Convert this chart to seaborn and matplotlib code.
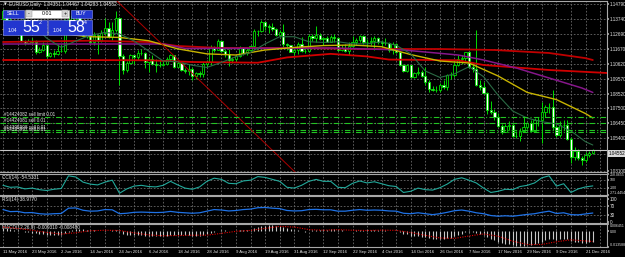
#!/usr/bin/env python
# EURUSD daily candles in MetaTrader style, with CCI, RSI and MACD sub-windows

import numpy as np
import seaborn as sns
from matplotlib import pyplot as plt
from matplotlib.patches import Rectangle

# ---------------------------------------------------------------- data
# daily OHLC, 11 May 2016 .. 23 Dec 2016 (one bar per weekday)
opens = [
    1.1377, 1.1428, 1.1370, 1.1310, 1.1315, 1.1317, 1.1220, 1.1203, 1.1222, 1.1215,
    1.1142, 1.1154, 1.1192, 1.1114, 1.1137, 1.1131, 1.1150, 1.1152, 1.1364, 1.1356,
    1.1392, 1.1394, 1.1314, 1.1252, 1.1289, 1.1212, 1.1259, 1.1222, 1.1276, 1.1311,
    1.1245, 1.1294, 1.1380, 1.1117, 1.1020, 1.1069, 1.1124, 1.1105, 1.1138, 1.1135,
    1.1075, 1.1095, 1.1060, 1.1052, 1.1052, 1.1060, 1.1091, 1.1120, 1.1040, 1.1066,
    1.1020, 1.1010, 1.1025, 1.0977, 1.0995, 1.0990, 1.1060, 1.1076, 1.1172, 1.1160,
    1.1222, 1.1150, 1.1129, 1.1086, 1.1094, 1.1115, 1.1172, 1.1137, 1.1160, 1.1182,
    1.1292, 1.1289, 1.1352, 1.1325, 1.1318, 1.1307, 1.1265, 1.1285, 1.1198, 1.1190,
    1.1146, 1.1158, 1.1197, 1.1153, 1.1152, 1.1255, 1.1240, 1.1262, 1.1232, 1.1240,
    1.1215, 1.1245, 1.1240, 1.1155, 1.1170, 1.1153, 1.1188, 1.1212, 1.1225, 1.1253,
    1.1210, 1.1215, 1.1220, 1.1240, 1.1210, 1.1205, 1.1205, 1.1155, 1.1200, 1.1145,
    1.1055, 1.1010, 1.1050, 1.0970, 1.0997, 1.1005, 1.0975, 1.0930, 1.0885, 1.0880,
    1.0875, 1.0915, 1.0895, 1.0985, 1.0980, 1.1055, 1.1095, 1.1100, 1.1140, 1.1040,
    1.1025, 1.0910, 1.0895, 1.0855, 1.0735, 1.0720, 1.0690, 1.0625, 1.0585, 1.0625,
    1.0630, 1.0555, 1.0555, 1.0590, 1.0615, 1.0645, 1.0590, 1.0665, 1.0665, 1.0720,
    1.0760, 1.0760, 1.0615, 1.0560, 1.0630, 1.0635, 1.0535, 1.0410, 1.0450, 1.0400,
    1.0385, 1.0425, 1.0435]
highs = [
    1.1446, 1.1440, 1.1385, 1.1335, 1.1350, 1.1335, 1.1225, 1.1235, 1.1240, 1.1230,
    1.1175, 1.1215, 1.1205, 1.1145, 1.1160, 1.1200, 1.1195, 1.1375, 1.1395, 1.1415,
    1.1415, 1.1400, 1.1330, 1.1300, 1.1300, 1.1285, 1.1260, 1.1295, 1.1380, 1.1350,
    1.1355, 1.1427, 1.1390, 1.1130, 1.1080, 1.1130, 1.1125, 1.1160, 1.1165, 1.1140,
    1.1105, 1.1120, 1.1095, 1.1085, 1.1090, 1.1110, 1.1130, 1.1125, 1.1080, 1.1070,
    1.1030, 1.1060, 1.1040, 1.1005, 1.1010, 1.1070, 1.1090, 1.1190, 1.1185, 1.1235,
    1.1230, 1.1165, 1.1165, 1.1105, 1.1125, 1.1185, 1.1180, 1.1175, 1.1190, 1.1305,
    1.1300, 1.1366, 1.1355, 1.1340, 1.1345, 1.1310, 1.1300, 1.1340, 1.1205, 1.1195,
    1.1165, 1.1210, 1.1245, 1.1170, 1.1270, 1.1270, 1.1325, 1.1275, 1.1250, 1.1255,
    1.1265, 1.1270, 1.1245, 1.1190, 1.1200, 1.1215, 1.1255, 1.1240, 1.1265, 1.1260,
    1.1235, 1.1245, 1.1255, 1.1250, 1.1230, 1.1240, 1.1215, 1.1215, 1.1205, 1.1150,
    1.1060, 1.1060, 1.1055, 1.1005, 1.1035, 1.1020, 1.1040, 1.0945, 1.0905, 1.0905,
    1.0925, 1.0945, 1.0990, 1.1000, 1.1070, 1.1125, 1.1125, 1.1145, 1.1145, 1.1070,
    1.1300, 1.0950, 1.0935, 1.0860, 1.0800, 1.0745, 1.0715, 1.0640, 1.0640, 1.0660,
    1.0640, 1.0590, 1.0610, 1.0685, 1.0650, 1.0665, 1.0680, 1.0690, 1.0795, 1.0775,
    1.0785, 1.0875, 1.0630, 1.0660, 1.0670, 1.0670, 1.0545, 1.0480, 1.0465, 1.0415,
    1.0445, 1.0450, 1.0467]
lows = [
    1.1370, 1.1365, 1.1305, 1.1290, 1.1300, 1.1215, 1.1195, 1.1200, 1.1200, 1.1130,
    1.1135, 1.1150, 1.1098, 1.1105, 1.1105, 1.1120, 1.1145, 1.1135, 1.1330, 1.1350,
    1.1360, 1.1300, 1.1245, 1.1240, 1.1200, 1.1195, 1.1130, 1.1210, 1.1270, 1.1240,
    1.1225, 1.1280, 1.0912, 1.0990, 1.1005, 1.1060, 1.1060, 1.1090, 1.1120, 1.1030,
    1.1000, 1.1055, 1.1000, 1.1035, 1.1045, 1.1050, 1.1080, 1.1030, 1.1035, 1.1010,
    1.0995, 1.0985, 1.0950, 1.0952, 1.0965, 1.0970, 1.1035, 1.1050, 1.1140, 1.1155,
    1.1140, 1.1110, 1.1045, 1.1065, 1.1070, 1.1105, 1.1125, 1.1120, 1.1145, 1.1175,
    1.1255, 1.1285, 1.1295, 1.1275, 1.1290, 1.1255, 1.1245, 1.1180, 1.1160, 1.1140,
    1.1120, 1.1130, 1.1140, 1.1135, 1.1140, 1.1220, 1.1215, 1.1225, 1.1195, 1.1210,
    1.1210, 1.1215, 1.1150, 1.1150, 1.1140, 1.1125, 1.1180, 1.1195, 1.1210, 1.1200,
    1.1180, 1.1195, 1.1160, 1.1200, 1.1175, 1.1190, 1.1140, 1.1130, 1.1135, 1.1045,
    1.1000, 1.1000, 1.0960, 1.0960, 1.0980, 1.0965, 1.0915, 1.0860, 1.0870, 1.0860,
    1.0865, 1.0885, 1.0875, 1.0955, 1.0970, 1.1045, 1.1060, 1.1075, 1.1030, 1.1005,
    1.0905, 1.0880, 1.0850, 1.0710, 1.0710, 1.0665, 1.0620, 1.0570, 1.0580, 1.0600,
    1.0545, 1.0540, 1.0520, 1.0585, 1.0605, 1.0580, 1.0585, 1.0625, 1.0505, 1.0690,
    1.0715, 1.0600, 1.0545, 1.0545, 1.0600, 1.0525, 1.0365, 1.0390, 1.0385, 1.0352,
    1.0370, 1.0410, 1.0428]
closes = [
    1.1428, 1.1370, 1.1310, 1.1315, 1.1317, 1.1220, 1.1203, 1.1222, 1.1215, 1.1142,
    1.1154, 1.1192, 1.1114, 1.1137, 1.1131, 1.1150, 1.1152, 1.1364, 1.1356, 1.1392,
    1.1394, 1.1314, 1.1252, 1.1289, 1.1212, 1.1259, 1.1222, 1.1276, 1.1311, 1.1245,
    1.1294, 1.1380, 1.1117, 1.1020, 1.1069, 1.1124, 1.1105, 1.1138, 1.1135, 1.1075,
    1.1095, 1.1060, 1.1052, 1.1052, 1.1060, 1.1091, 1.1120, 1.1040, 1.1066, 1.1020,
    1.1010, 1.1025, 1.0977, 1.0995, 1.0990, 1.1060, 1.1076, 1.1172, 1.1160, 1.1222,
    1.1150, 1.1129, 1.1086, 1.1094, 1.1115, 1.1172, 1.1137, 1.1160, 1.1182, 1.1292,
    1.1289, 1.1352, 1.1325, 1.1318, 1.1307, 1.1265, 1.1285, 1.1198, 1.1190, 1.1146,
    1.1158, 1.1197, 1.1153, 1.1152, 1.1255, 1.1240, 1.1262, 1.1232, 1.1240, 1.1215,
    1.1245, 1.1240, 1.1155, 1.1170, 1.1153, 1.1188, 1.1212, 1.1225, 1.1253, 1.1210,
    1.1215, 1.1220, 1.1240, 1.1210, 1.1205, 1.1205, 1.1155, 1.1200, 1.1145, 1.1055,
    1.1010, 1.1050, 1.0970, 1.0997, 1.1005, 1.0975, 1.0930, 1.0885, 1.0880, 1.0875,
    1.0915, 1.0895, 1.0985, 1.0980, 1.1055, 1.1095, 1.1100, 1.1140, 1.1040, 1.1025,
    1.0910, 1.0895, 1.0855, 1.0735, 1.0720, 1.0690, 1.0625, 1.0585, 1.0625, 1.0630,
    1.0555, 1.0555, 1.0590, 1.0615, 1.0645, 1.0590, 1.0665, 1.0665, 1.0720, 1.0760,
    1.0760, 1.0615, 1.0560, 1.0630, 1.0635, 1.0535, 1.0410, 1.0450, 1.0400, 1.0385,
    1.0425, 1.0435, 1.0455]

# one date label every 8 bars
date_labels = ["11 May 2016", "23 May 2016", "2 Jun 2016", "14 Jun 2016", "24 Jun 2016",
               "6 Jul 2016", "18 Jul 2016", "28 Jul 2016", "9 Aug 2016", "19 Aug 2016",
               "31 Aug 2016", "12 Sep 2016", "22 Sep 2016", "4 Oct 2016", "14 Oct 2016",
               "26 Oct 2016", "7 Nov 2016", "17 Nov 2016", "29 Nov 2016", "9 Dec 2016",
               "21 Dec 2016"]

price_ticks = [1.14790, 1.13740, 1.12690, 1.11670, 1.10620, 1.09570, 1.08520,
               1.07500, 1.06450, 1.05400, 1.04320, 1.03100]
price_tick_labels = ["1.14790", "1.13740", "1.12690", "1.11670", "1.10620", "1.09570",
                     "1.08520", "1.07500", "1.06450", "1.05400", "", "1.03100"]

# moving averages at a few bars
yellow_bars = [0, 8, 16, 24, 32, 40, 48, 56, 64, 72, 80, 88, 96, 104, 112, 120, 128,
               136, 144, 152, 160, 162]
yellow_ma = [1.1300, 1.1290, 1.1270, 1.1250, 1.1245, 1.1222, 1.1165, 1.1130, 1.1122,
             1.1157, 1.1175, 1.1188, 1.1192, 1.1180, 1.1125, 1.1080, 1.1066, 1.0975,
             1.0860, 1.0810, 1.0712, 1.0681]
purple_bars = [0, 44, 50, 90, 110, 125, 132, 141, 150, 159, 162]
purple_ma = [1.1199, 1.1199, 1.1168, 1.1171, 1.1157, 1.1122, 1.1087, 1.1031, 1.0961,
             1.0891, 1.0860]
red_up_bars = [0, 24, 40, 48, 60, 80, 100, 120, 135, 150, 160, 162]
red_up_ma = [1.1213, 1.1222, 1.1213, 1.1185, 1.1171, 1.1171, 1.1164, 1.1164, 1.1157,
             1.1136, 1.1100, 1.1087]
red_lo_bars = [0, 20, 40, 52, 70, 78, 90, 100, 106, 125, 132, 150, 166]
red_lo_ma = [1.1087, 1.1087, 1.1085, 1.1073, 1.1068, 1.1105, 1.1130, 1.1112, 1.1090,
             1.1085, 1.1052, 1.1017, 1.0996]
green_bars = list(range(0, 161, 4)) + [162]
green_ma = [1.1400, 1.1395, 1.1340, 1.1240, 1.1175, 1.1220, 1.1260, 1.1280, 1.1270,
            1.1220, 1.1150, 1.1080, 1.1075, 1.1050, 1.1035, 1.1070, 1.1110, 1.1140,
            1.1200, 1.1250, 1.1250, 1.1215, 1.1210, 1.1215, 1.1200, 1.1200, 1.1215,
            1.1190, 1.1130, 1.1010, 1.0965, 1.0990, 1.1040, 1.0970, 1.0840, 1.0730,
            1.0680, 1.0655, 1.0640, 1.0590, 1.0515, 1.0492]

# hand drawn trend line (two anchor points)
trend_bars = [30, 82]
trend_prices = [1.1532, 1.0259]

# pending / open orders
order_prices = [1.0688, 1.0646, 1.0597, 1.0583]
order_labels = ["#14424082 sell limit 0.01", "#14424081 sell 0.01",
                "#14395998 sell 0.01", "#14395997 sell 0.01"]
bid = 1.04552

# indicator windows
cci_bars = list(range(0, 163, 2))
cci = [-40, -90, -80, -130, -110, -150, -170, -140, -120, 200, 170, 40, -10, -30, 40, 90,
       -240, -130, -60, -40, -70, -80, -40, 60, -30, -110, -140, -80, 60, 140, 110, 10,
       0, 70, 90, 180, 160, 110, 60, -90, -110, -40, 60, 110, 60, 60, -90, -100, 10, 70,
       20, 50, 0, -50, -70, -220, -190, -110, -150, -160, -100, -10, 110, 150, 90, 20,
       -110, -220, -190, -140, -150, -70, -40, 20, 150, 200, -60, 0, -220, -130, -80, -55]
rsi = [54, 45, 46, 40, 41, 36, 34, 36, 37, 60, 61, 51, 47, 48, 54, 53, 36, 38, 42, 43,
       42, 41, 42, 46, 42, 40, 38, 40, 47, 54, 52, 48, 50, 54, 56, 62, 63, 60, 58, 50,
       48, 49, 54, 55, 53, 53, 47, 47, 51, 54, 51, 52, 51, 48, 47, 38, 36, 40, 36, 32,
       36, 42, 49, 52, 47, 40, 36, 28, 25, 27, 25, 29, 33, 36, 42, 47, 37, 40, 32, 31,
       35, 39]
# MACD main line, in units of 0.001, one value per bar
macd = [3.0, 2.6, 2.0, 1.5, 1.2, 0.4, -0.3, -0.7, -1.0, -1.7,
        -2.1, -2.2, -2.8, -3.0, -3.2, -3.1, -3.0, -1.3, -0.1, 1.1,
        2.0, 2.1, 1.7, 1.6, 1.0, 0.9, 0.5, 0.6, 0.9, 0.6,
        0.8, 1.6, -0.1, -2.0, -3.0, -3.2, -3.5, -3.4, -3.3, -3.6,
        -3.7, -4.0, -4.2, -4.2, -4.1, -3.7, -3.1, -3.2, -3.0, -3.2,
        -3.4, -3.3, -3.7, -3.8, -3.8, -3.2, -2.6, -1.3, -0.4, 0.7,
        1.0, 1.0, 0.6, 0.4, 0.4, 0.9, 1.0, 1.3, 1.6, 2.8,
        3.6, 4.6, 5.1, 5.4, 5.4, 5.0, 4.8, 3.7, 2.8, 1.8,
        1.1, 0.9, 0.3, -0.1, 0.5, 0.9, 1.3, 1.4, 1.6, 1.5,
        1.7, 1.8, 1.2, 0.8, 0.4, 0.4, 0.6, 0.8, 1.2, 1.1,
        1.1, 1.2, 1.3, 1.2, 1.1, 1.0, 0.6, 0.6, 0.2, -0.9,
        -2.1, -2.6, -3.6, -4.1, -4.3, -4.7, -5.3, -6.1, -6.6, -7.0,
        -6.9, -6.9, -6.1, -5.4, -4.2, -2.9, -1.9, -0.8, -0.8, -0.9,
        -1.8, -2.6, -3.5, -5.1, -6.4, -7.6, -9.0, -10.4, -11.0, -11.3,
        -12.1, -12.6, -12.6, -12.3, -11.7, -11.6, -10.8, -10.0, -8.9, -7.6,
        -6.5, -6.7, -7.2, -6.9, -6.5, -7.0, -8.3, -8.9, -9.6, -10.2,
        -10.1, -9.6, -9.3]
signal_bars = list(range(0, 161, 4)) + [162]
macd_signal = [3.8, 2.6, 1.0, -0.9, -2.3, -1.2, 0.6, 1.0, 0.8, -1.3, -3.0, -3.8, -3.6,
               -3.3, -3.3, -1.7, 0.1, 0.9, 2.6, 4.4, 3.8, 1.6, 1.0, 1.5, 1.0, 0.8, 1.1,
               0.9, -1.0, -3.4, -5.7, -6.1, -4.0, -2.2, -4.2, -8.5, -11.4, -11.4, -9.0,
               -7.3, -8.3, -8.8]

n = len(closes)
assert len(opens) == len(highs) == len(lows) == n == len(macd) == 163
assert len(cci) == len(rsi) == len(cci_bars)
assert len(green_ma) == len(green_bars) and len(macd_signal) == len(signal_bars)

# ---------------------------------------------------------------- style
sns.set_theme(style="dark", rc={"axes.facecolor": "black", "figure.facecolor": "black"})
plt.rcParams['font.family'] = ['Liberation Sans', 'DejaVu Sans']

W, H = 625, 257
TXT = '#e6e6e6'
GREEN = '#00dd00'
FS = 3.4
grid_kw = dict(color='#6a6a6a', linestyle=(0, (2, 2)), linewidth=0.6, zorder=1)

fig = plt.figure(figsize=(W / 100, H / 100), dpi=100, facecolor='black')


def box(top, bottom, left=0, right=607):
    return [left / W, 1 - bottom / H, (right - left) / W, (bottom - top) / H]


ax = fig.add_axes(box(1, 172))
ax_cci = fig.add_axes(box(173.5, 194.5))
ax_rsi = fig.add_axes(box(195.5, 223))
ax_macd = fig.add_axes(box(224, 247))
all_axes = [ax, ax_cci, ax_rsi, ax_macd]

for a in all_axes:
    a.set_facecolor('black')
    a.set_xlim(-0.82, 165.9)
    a.spines['left'].set_visible(False)
    for s in ['top', 'bottom', 'right']:
        a.spines[s].set_color('#a8a8a8')
        a.spines[s].set_linewidth(0.8)
    a.yaxis.tick_right()
    a.tick_params(axis='y', length=1.5, pad=0.6, labelsize=3.3, color='#a8a8a8',
                  labelcolor=TXT)
    a.set_xticks([])
    a.grid(False)
    for b in range(0, 167, 4):
        a.axvline(b, **grid_kw)

# ---------------------------------------------------------------- main window
ax.set_ylim(1.0303, 1.1500)
ax.set_yticks(price_ticks)
ax.set_yticklabels(price_tick_labels)
for p in price_ticks:
    ax.axhline(p, **grid_kw)

o = np.array(opens)
h = np.array(highs)
l = np.array(lows)
c = np.array(closes)
x = np.arange(n)
up = c >= o
body_lo = np.minimum(o, c)
body_h = np.maximum(np.abs(c - o), 0.00012)

ax.vlines(x, l, h, color=GREEN, lw=0.7, zorder=3)
ax.bar(x[up], body_h[up], bottom=body_lo[up], width=0.62, color='black',
       edgecolor=GREEN, linewidth=0.6, zorder=4)
ax.bar(x[~up], body_h[~up], bottom=body_lo[~up], width=0.62, color='white',
       edgecolor=GREEN, linewidth=0.6, zorder=4)

sns.lineplot(x=red_lo_bars, y=red_lo_ma, ax=ax, color='#d00000', lw=1.3, zorder=5)
sns.lineplot(x=red_up_bars, y=red_up_ma, ax=ax, color='#c00000', lw=1.3, zorder=5)
sns.lineplot(x=purple_bars, y=purple_ma, ax=ax, color='#86168a', lw=1.1, zorder=5)
sns.lineplot(x=yellow_bars, y=yellow_ma, ax=ax, color='#c8b400', lw=1.0, zorder=5)
sns.lineplot(x=green_bars, y=green_ma, ax=ax, color='#2b6b45', lw=0.8, zorder=5)
sns.lineplot(x=trend_bars, y=trend_prices, ax=ax, color='#b00000', lw=0.7, zorder=5)

for p, lab in zip(order_prices, order_labels):
    ax.axhline(p, color='#22c422', lw=0.8, linestyle=(0, (5, 2, 1, 2)), zorder=6)
    ax.text(0.4, p + 0.0003, lab, fontsize=3.3, color=TXT, va='bottom', zorder=7)

ax.axhline(bid, color='#c8c8c8', lw=0.8, zorder=6)

# ---------------------------------------------------------------- CCI
ax_cci.set_ylim(-271.4454, 258.0655)
ax_cci.set_yticks([258.0655, 100, -100, -271.4454])
ax_cci.set_yticklabels(["258.0655", "100", "-100", "-271.4454"])
ax_cci.tick_params(axis='y', labelsize=2.5, pad=0.3)
for lv in [100, -100]:
    ax_cci.axhline(lv, **grid_kw)
sns.lineplot(x=cci_bars, y=cci, ax=ax_cci, color='#22a89a', lw=0.8, zorder=5)
ax_cci.text(0.004, 0.93, "CCI(14) -54.5331", transform=ax_cci.transAxes, fontsize=FS,
            color=TXT, va='top')

# ---------------------------------------------------------------- RSI
ax_rsi.set_ylim(-4.3, 115)
ax_rsi.set_yticks([100, 70, 30, 0])
ax_rsi.set_yticklabels(["100", "70", "30", "0"])
for lv in [70, 30]:
    ax_rsi.axhline(lv, **grid_kw)
sns.lineplot(x=cci_bars, y=rsi, ax=ax_rsi, color='#1f72e6', lw=0.9, zorder=5)
ax_rsi.text(0.004, 0.95, "RSI(14) 38.9770", transform=ax_rsi.transAxes, fontsize=FS,
            color=TXT, va='top')

# ---------------------------------------------------------------- MACD
m = np.array(macd) / 1000
ax_macd.set_ylim(-0.013588, 0.006451)
ax_macd.set_yticks([0.006451, 0.0, -0.013588])
ax_macd.set_yticklabels(["0.006451", "0.00", "-0.013588"])
ax_macd.tick_params(axis='y', labelsize=2.5, pad=0.3)
ax_macd.vlines(x, 0, m, color='#c8c8c8', lw=0.8, zorder=4)
sns.lineplot(x=signal_bars, y=np.array(macd_signal) / 1000, ax=ax_macd, color='#e00000',
             lw=0.8, linestyle=(0, (1, 1.2)), zorder=5)
ax_macd.text(0.004, 0.95, "MACD(12,26,9) -0.009310 -0.008480", transform=ax_macd.transAxes,
             fontsize=FS, color=TXT, va='top')

# keep the end labels of the sub-windows inside their own window
for a in [ax_cci, ax_macd]:
    labs = a.get_yticklabels()
    labs[0].set_va('top')
    labs[-1].set_va('bottom')

ax_macd.set_xticks(range(0, n, 8))
ax_macd.set_xticklabels(date_labels, ha='left')
ax_macd.tick_params(axis='x', length=1.5, pad=0.8, labelsize=3.1, color='#a8a8a8',
                    labelcolor=TXT)

for a in all_axes:
    a.set_xlabel('')
    a.set_ylabel('')

# ---------------------------------------------------------------- one-click trading panel
ov = fig.add_axes([0, 0, 1, 1], zorder=10)
ov.set_xlim(0, W)
ov.set_ylim(H, 0)
ov.axis('off')
ov.patch.set_alpha(0)

ov.text(3.5, 4.5, "\u25bc", fontsize=2.6, color=TXT, va='center', family='DejaVu Sans')
ov.text(9, 4.5, "EURUSD,Daily  1.04351 1.04467 1.04283 1.04552", fontsize=FS,
        color=TXT, va='center')

BLUE = '#2236cf'
EDGE = '#8c98ff'
ov.add_patch(Rectangle((3, 9.5), 20.5, 8.5, fc=BLUE, ec=EDGE, lw=0.4))
ov.text(13.2, 13.9, "SELL", fontsize=3.8, color='white', ha='center', va='center')
ov.add_patch(Rectangle((25, 9.5), 44, 8.5, fc='white', ec='#b0b0b0', lw=0.4))
ov.add_patch(Rectangle((25.6, 10.1), 6, 7.3, fc='#d4d4d4', ec='#909090', lw=0.3))
ov.add_patch(Rectangle((62.4, 10.1), 6, 7.3, fc='#d4d4d4', ec='#909090', lw=0.3))
ov.text(28.6, 13.7, "-", fontsize=3.8, color='black', ha='center', va='center')
ov.text(65.4, 13.7, "+", fontsize=3.8, color='black', ha='center', va='center')
ov.text(47, 13.9, "0.01", fontsize=3.8, color='black', ha='center', va='center')
ov.add_patch(Rectangle((71, 9.5), 20.5, 8.5, fc=BLUE, ec=EDGE, lw=0.4))
ov.text(81.2, 13.9, "BUY", fontsize=3.8, color='white', ha='center', va='center')

for x0, big, small in [(3, "55", "2"), (48, "58", "4")]:
    ov.add_patch(Rectangle((x0, 19.5), 43.5, 15.5, fc=BLUE, ec=EDGE, lw=0.4))
    ov.text(x0 + 5, 30.5, "1.04", fontsize=3.5, color='white', va='center')
    ov.text(x0 + 19.5, 27.6, big, fontsize=11.5, color='white', va='center')
    ov.text(x0 + 36, 22.3, small, fontsize=3.8, color='white', va='center')

# bid price tag on the price scale
ov.add_patch(Rectangle((607.5, 150), 17.5, 6.5, fc='#d8d8d8', ec='none'))
ov.text(609, 153.3, "1.04552", fontsize=3.3, color='black', va='center')

fig.savefig("out.png", dpi=100, facecolor='black')
